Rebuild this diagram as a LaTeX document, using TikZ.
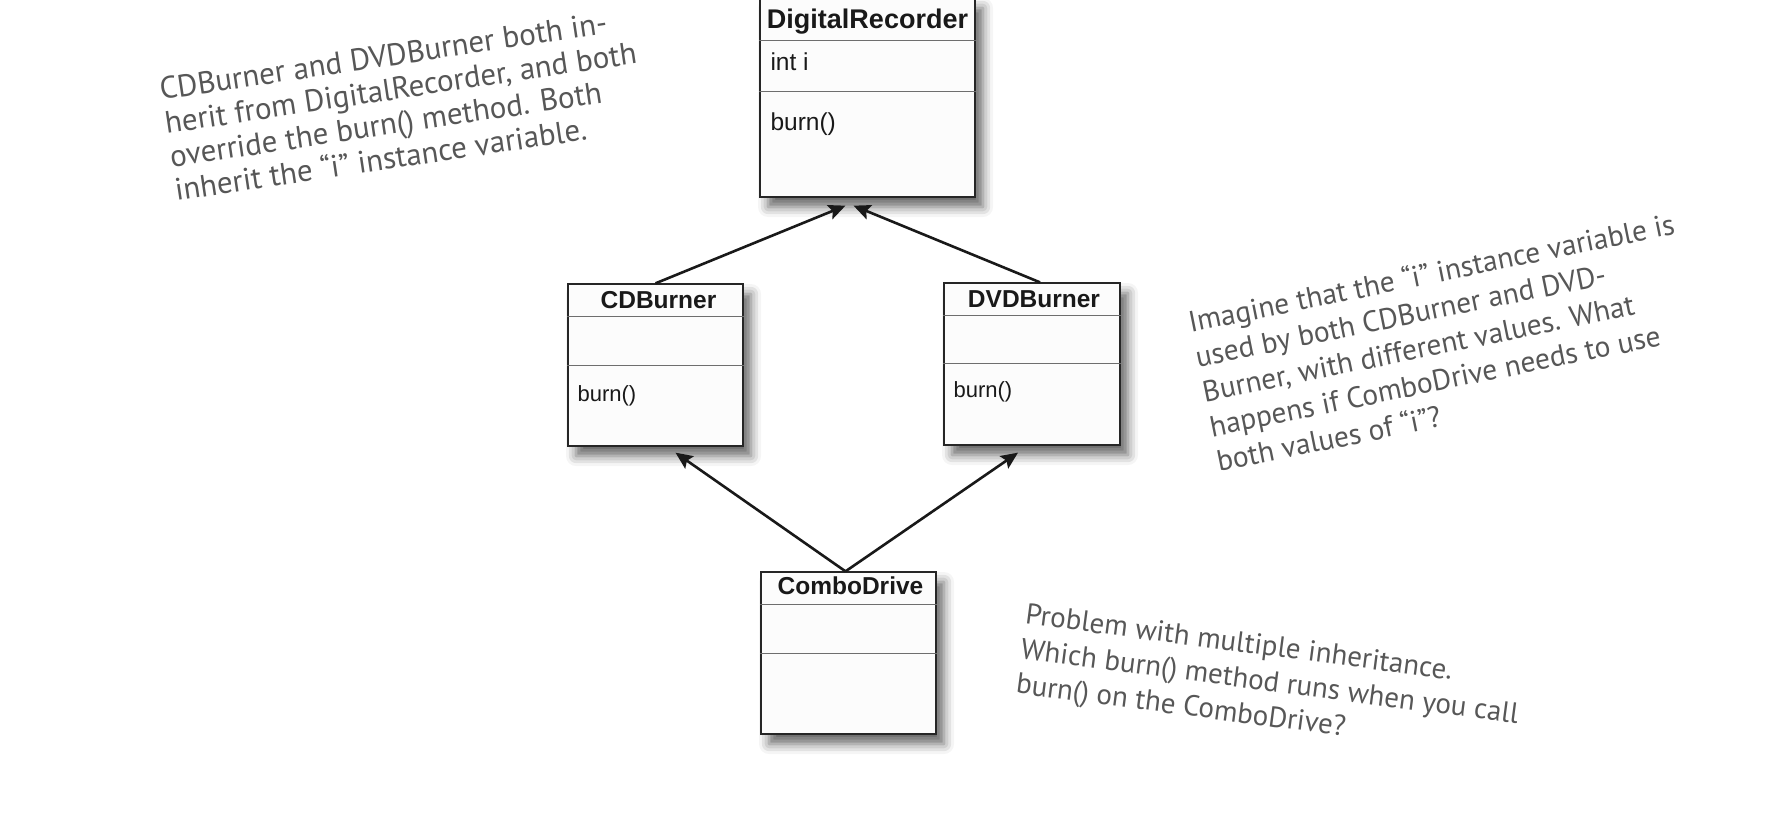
\documentclass[tikz,border=0pt]{standalone}
\usepackage{fontspec}
\setmainfont{Liberation Sans}
\newfontfamily\handfont{PT Sans}
\usepackage{tikz}
\usepackage{xcolor}
\usetikzlibrary{arrows.meta, positioning, calc, shadows.blur}
\definecolor{notegray}{HTML}{575757}
\definecolor{sepgray}{HTML}{6E6E6E}

\begin{document}
\begin{tikzpicture}[x=1pt, y=-1pt,
  classbox/.style={draw=black!85, line width=1.3pt, fill=white!99!black, inner sep=0pt,
    blur shadow={shadow xshift=8pt, shadow yshift=-10pt, shadow blur radius=10pt, shadow opacity=60}},
  classname/.style={inner sep=0pt, font=\fontsize{24.5}{28}\selectfont\bfseries, text=black!90},
  member/.style={anchor=west, inner sep=0pt, font=\fontsize{22}{26}\selectfont, text=black!90},
  sepline/.style={draw=sepgray, line width=1.1pt},
  inherit/.style={line width=2.6pt, black!90, -{Stealth[length=17pt, width=15pt, inset=3pt]}},
  note/.style={text=notegray, align=left, inner sep=0pt, anchor=north west}
]
\useasboundingbox (0,0) rectangle (1788,840);

% Superclass
\node[classbox, minimum width=215pt, minimum height=199pt] (dr) at (867.5,97.5) {};
\draw[sepline] ($(dr.north west)+(0,43)$) -- ($(dr.north east)+(0,43)$);
\draw[sepline] ($(dr.north west)+(0,94)$) -- ($(dr.north east)+(0,94)$);
\node[classname, font=\fontsize{27}{30}\selectfont\bfseries] (drname) at ($(dr.north)+(0,24)$) {DigitalRecorder};
\node[member, font=\fontsize{24.5}{28}\selectfont] (drvar) at ($(dr.north west)+(11,64)$) {int i};
\node[member, font=\fontsize{24.5}{28}\selectfont] (drburn) at ($(dr.north west)+(11,127)$) {burn()};

% The two burners
\node[classbox, minimum width=175pt, minimum height=162pt] (cd) at (655.5,365) {};
\draw[sepline] ($(cd.north west)+(0,33)$) -- ($(cd.north east)+(0,33)$);
\draw[sepline] ($(cd.north west)+(0,82)$) -- ($(cd.north east)+(0,82)$);
\node[classname] (cdname) at ($(cd.north)+(3,17)$) {CDBurner};
\node[member] (cdburn) at ($(cd.north west)+(10,112)$) {burn()};

\node[classbox, minimum width=176pt, minimum height=162pt] (dvd) at (1032,364) {};
\draw[sepline] ($(dvd.north west)+(0,33)$) -- ($(dvd.north east)+(0,33)$);
\draw[sepline] ($(dvd.north west)+(0,81)$) -- ($(dvd.north east)+(0,81)$);
\node[classname] (dvdname) at ($(dvd.north)+(2,17)$) {DVDBurner};
\node[member] (dvdburn) at ($(dvd.north west)+(10,109)$) {burn()};

% Combo drive
\node[classbox, minimum width=175pt, minimum height=162pt] (combo) at (848.5,653) {};
\draw[sepline] ($(combo.north west)+(0,33)$) -- ($(combo.north east)+(0,33)$);
\draw[sepline] ($(combo.north west)+(0,82)$) -- ($(combo.north east)+(0,82)$);
\node[classname] (comboname) at ($(combo.north)+(2,14)$) {ComboDrive};

% Inheritance arrows
\coordinate (drL) at ($(dr.south)+(-22,8)$);
\coordinate (drR) at ($(dr.south)+(-14,8)$);
\coordinate (cdtip) at ($(cd.south)+(20,6)$);
\coordinate (dvdtip) at ($(dvd.south)+(-14,7)$);
\draw[inherit] (cd.north) -- (drL);
\draw[inherit] ($(dvd.north)+(8,0)$) -- (drR);
\draw[inherit] ($(combo.north)+(-3,0)$) -- (cdtip);
\draw[inherit] ($(combo.north)+(-3,0)$) -- (dvdtip);

% Notes
\node[note, rotate=8.5, font=\handfont\fontsize{31}{34}\selectfont] (note1) at (158,78) {CDBurner and DVDBurner both in-\\herit from DigitalRecorder, and both\\override the burn() method. Both\\inherit the “i” instance variable.};
\node[note, rotate=11.5, font=\handfont\fontsize{29.5}{35.5}\selectfont] (note2) at (1186,310) {Imagine that the “i” instance variable is\\used by both CDBurner and DVD-\\Burner, with different values. What\\happens if ComboDrive needs to use\\both values of “i”?};
\node[note, rotate=-7.5, font=\handfont\fontsize{29}{35}\selectfont] (note3) at (1027,603) {Problem with multiple inheritance.\\Which burn() method runs when you call\\burn() on the ComboDrive?};
\end{tikzpicture}
\end{document}
